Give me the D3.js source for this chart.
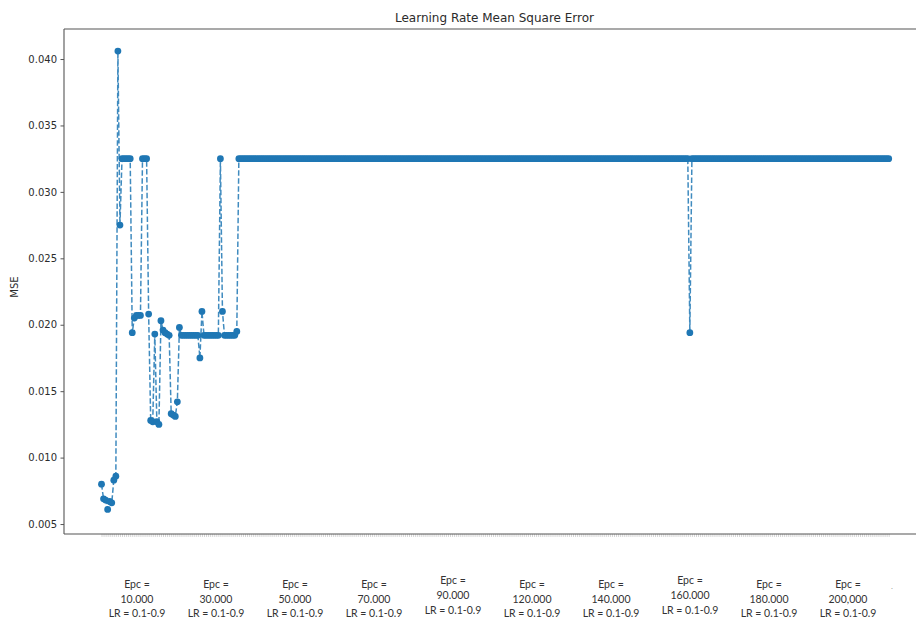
<!DOCTYPE html>
<html>
<head>
<meta charset="utf-8">
<script src="https://cdn.jsdelivr.net/npm/d3@7"></script>
<style>
  html, body { margin: 0; padding: 0; background: #fff; }
  svg { display: block; }
</style>
</head>
<body>
<svg id="chart" width="916" height="623"></svg>
<script>
// Mean square error for each run, in run order
const mse = [
  0.0080,0.0069,0.0068,0.0061,0.0067,0.0066,0.0083,0.0086,0.0406,0.0275,
  0.0325,0.0325,0.0325,0.0325,0.0325,0.0194,0.0205,0.0207,0.0207,0.0207,
  0.0325,0.0325,0.0325,0.0208,0.0128,0.0127,0.0193,0.0127,0.0125,0.0203,
  0.0196,0.0194,0.0193,0.0192,0.0133,0.0132,0.0131,0.0142,0.0198,0.0192,
  0.0192,0.0192,0.0192,0.0192,0.0192,0.0192,0.0192,0.0192,0.0175,0.0210,
  0.0192,0.0192,0.0192,0.0192,0.0192,0.0192,0.0192,0.0192,0.0325,0.0210,
  0.0192,0.0192,0.0192,0.0192,0.0192,0.0192,0.0195,0.0325,0.0325,0.0325,
  0.0325,0.0325,0.0325,0.0325,0.0325,0.0325,0.0325,0.0325,0.0325,0.0325,
  0.0325,0.0325,0.0325,0.0325,0.0325,0.0325,0.0325,0.0325,0.0325,0.0325,
  0.0325,0.0325,0.0325,0.0325,0.0325,0.0325,0.0325,0.0325,0.0325,0.0325,
  0.0325,0.0325,0.0325,0.0325,0.0325,0.0325,0.0325,0.0325,0.0325,0.0325,
  0.0325,0.0325,0.0325,0.0325,0.0325,0.0325,0.0325,0.0325,0.0325,0.0325,
  0.0325,0.0325,0.0325,0.0325,0.0325,0.0325,0.0325,0.0325,0.0325,0.0325,
  0.0325,0.0325,0.0325,0.0325,0.0325,0.0325,0.0325,0.0325,0.0325,0.0325,
  0.0325,0.0325,0.0325,0.0325,0.0325,0.0325,0.0325,0.0325,0.0325,0.0325,
  0.0325,0.0325,0.0325,0.0325,0.0325,0.0325,0.0325,0.0325,0.0325,0.0325,
  0.0325,0.0325,0.0325,0.0325,0.0325,0.0325,0.0325,0.0325,0.0325,0.0325,
  0.0325,0.0325,0.0325,0.0325,0.0325,0.0325,0.0325,0.0325,0.0325,0.0325,
  0.0325,0.0325,0.0325,0.0325,0.0325,0.0325,0.0325,0.0325,0.0325,0.0325,
  0.0325,0.0325,0.0325,0.0325,0.0325,0.0325,0.0325,0.0325,0.0325,0.0325,
  0.0325,0.0325,0.0325,0.0325,0.0325,0.0325,0.0325,0.0325,0.0325,0.0325,
  0.0325,0.0325,0.0325,0.0325,0.0325,0.0325,0.0325,0.0325,0.0325,0.0325,
  0.0325,0.0325,0.0325,0.0325,0.0325,0.0325,0.0325,0.0325,0.0325,0.0325,
  0.0325,0.0325,0.0325,0.0325,0.0325,0.0325,0.0325,0.0325,0.0325,0.0325,
  0.0325,0.0325,0.0325,0.0325,0.0325,0.0325,0.0325,0.0325,0.0325,0.0325,
  0.0325,0.0325,0.0325,0.0325,0.0325,0.0325,0.0325,0.0325,0.0325,0.0325,
  0.0325,0.0325,0.0325,0.0325,0.0325,0.0325,0.0325,0.0325,0.0325,0.0325,
  0.0325,0.0325,0.0325,0.0325,0.0325,0.0325,0.0325,0.0325,0.0325,0.0325,
  0.0325,0.0325,0.0325,0.0325,0.0325,0.0325,0.0325,0.0194,0.0325,0.0325,
  0.0325,0.0325,0.0325,0.0325,0.0325,0.0325,0.0325,0.0325,0.0325,0.0325,
  0.0325,0.0325,0.0325,0.0325,0.0325,0.0325,0.0325,0.0325,0.0325,0.0325,
  0.0325,0.0325,0.0325,0.0325,0.0325,0.0325,0.0325,0.0325,0.0325,0.0325,
  0.0325,0.0325,0.0325,0.0325,0.0325,0.0325,0.0325,0.0325,0.0325,0.0325,
  0.0325,0.0325,0.0325,0.0325,0.0325,0.0325,0.0325,0.0325,0.0325,0.0325,
  0.0325,0.0325,0.0325,0.0325,0.0325,0.0325,0.0325,0.0325,0.0325,0.0325,
  0.0325,0.0325,0.0325,0.0325,0.0325,0.0325,0.0325,0.0325,0.0325,0.0325,
  0.0325,0.0325,0.0325,0.0325,0.0325,0.0325,0.0325,0.0325,0.0325,0.0325,
  0.0325,0.0325,0.0325,0.0325,0.0325,0.0325,0.0325,0.0325,0.0325,0.0325,
  0.0325,0.0325,0.0325,0.0325,0.0325
];

// Epoch groups shown under the axis
const epochs = ["10.000","30.000","50.000","70.000","90.000",
                "120.000","140.000","160.000","180.000","200,000"];
const lrRange = "LR = 0.1-0.9";

// Y tick values
const yTicks = [0.005, 0.010, 0.015, 0.020, 0.025, 0.030, 0.035, 0.040];

const title = "Learning Rate Mean Square Error";
const yTitle = "MSE";

// ---- layout ----
const W = 916, H = 623;
const frame = { left: 64, right: 925, top: 29, bottom: 534 };
const blue = "#1f77b4";
const ink = "#2b2b2b";

const svg = d3.select("#chart");
svg.append("rect").attr("width", W).attr("height", H).attr("fill", "#fff");

const idx = d3.range(mse.length);

const x = d3.scaleLinear()
  .domain([0, mse.length - 1])
  .range([101.5, 888.7]);

const y = d3.scaleLinear()
  .domain([0.00425, 0.04226])
  .range([frame.bottom, frame.top]);

// x axis: a tick under every run, no labels
svg.append("g")
  .attr("transform", `translate(0,${frame.bottom})`)
  .call(d3.axisBottom(x).tickValues(idx).tickFormat("").tickSize(3).tickSizeOuter(0))
  .call(g => g.select(".domain").remove())
  .call(g => g.selectAll(".tick line").attr("stroke", "#aaa").attr("stroke-width", 0.5));

// y axis
svg.append("g")
  .attr("transform", `translate(${frame.left},0)`)
  .call(d3.axisLeft(y).tickValues(yTicks).tickFormat(d3.format(".3f")).tickSize(3.5).tickPadding(3.5).tickSizeOuter(0))
  .call(g => g.select(".domain").remove())
  .call(g => g.selectAll(".tick line").attr("stroke", ink).attr("stroke-width", 0.8))
  .call(g => g.selectAll(".tick text")
    .attr("font-family", "DejaVu Sans")
    .attr("font-size", 10)
    .attr("fill", ink));

// axes frame
const spines = svg.append("g").attr("stroke", "#555").attr("stroke-width", 1.1).attr("fill", "none");
spines.append("line").attr("x1", frame.left).attr("x2", frame.left).attr("y1", frame.top).attr("y2", frame.bottom);
spines.append("line").attr("x1", frame.left).attr("x2", frame.right).attr("y1", frame.top).attr("y2", frame.top);
spines.append("line").attr("x1", frame.left).attr("x2", frame.right).attr("y1", frame.bottom).attr("y2", frame.bottom);
spines.append("line").attr("x1", frame.right).attr("x2", frame.right).attr("y1", frame.top).attr("y2", frame.bottom);

// dashed connecting line
const line = d3.line()
  .x((d, i) => x(i))
  .y(d => y(d));

svg.append("path")
  .datum(mse)
  .attr("d", line)
  .attr("fill", "none")
  .attr("stroke", blue)
  .attr("stroke-opacity", 0.85)
  .attr("stroke-width", 1.5)
  .attr("stroke-dasharray", "5.5,2.4");

// markers
svg.append("g")
  .selectAll("circle")
  .data(mse)
  .join("circle")
  .attr("cx", (d, i) => x(i))
  .attr("cy", d => y(d))
  .attr("r", 3.4)
  .attr("fill", blue);

// title and axis label
svg.append("text")
  .attr("x", (frame.left + frame.right) / 2)
  .attr("y", 22)
  .attr("text-anchor", "middle")
  .attr("font-family", "DejaVu Sans")
  .attr("font-size", 12)
  .attr("fill", ink)
  .text(title);

svg.append("text")
  .attr("transform", "translate(18,287) rotate(-90)")
  .attr("text-anchor", "middle")
  .attr("font-family", "DejaVu Sans")
  .attr("font-size", 10)
  .attr("fill", ink)
  .text(yTitle);

// epoch group captions below the plot
const groupX = d3.scalePoint().domain(epochs).range([137, 848]);
const lifted = new Set(["90.000", "160.000"]);

const captions = svg.append("g")
  .attr("font-family", "Lato, 'Open Sans', sans-serif")
  .attr("font-size", 10.5)
  .attr("fill", "#333")
  .attr("text-anchor", "middle");

epochs.forEach(ep => {
  const dy = lifted.has(ep) ? -3.5 : 0;
  const t = captions.append("text")
    .attr("x", groupX(ep))
    .attr("y", 587.5 + dy);
  t.append("tspan").attr("x", groupX(ep)).attr("dy", 0).text("Epc =");
  t.append("tspan").attr("x", groupX(ep)).attr("dy", 15).text(ep);
  t.append("tspan").attr("x", groupX(ep)).attr("dy", 14.5).text(lrRange);
});

svg.append("text")
  .attr("x", 891)
  .attr("y", 589)
  .attr("font-family", "Lato, sans-serif")
  .attr("font-size", 8)
  .attr("fill", "#999")
  .text(".");
</script>
</body>
</html>
